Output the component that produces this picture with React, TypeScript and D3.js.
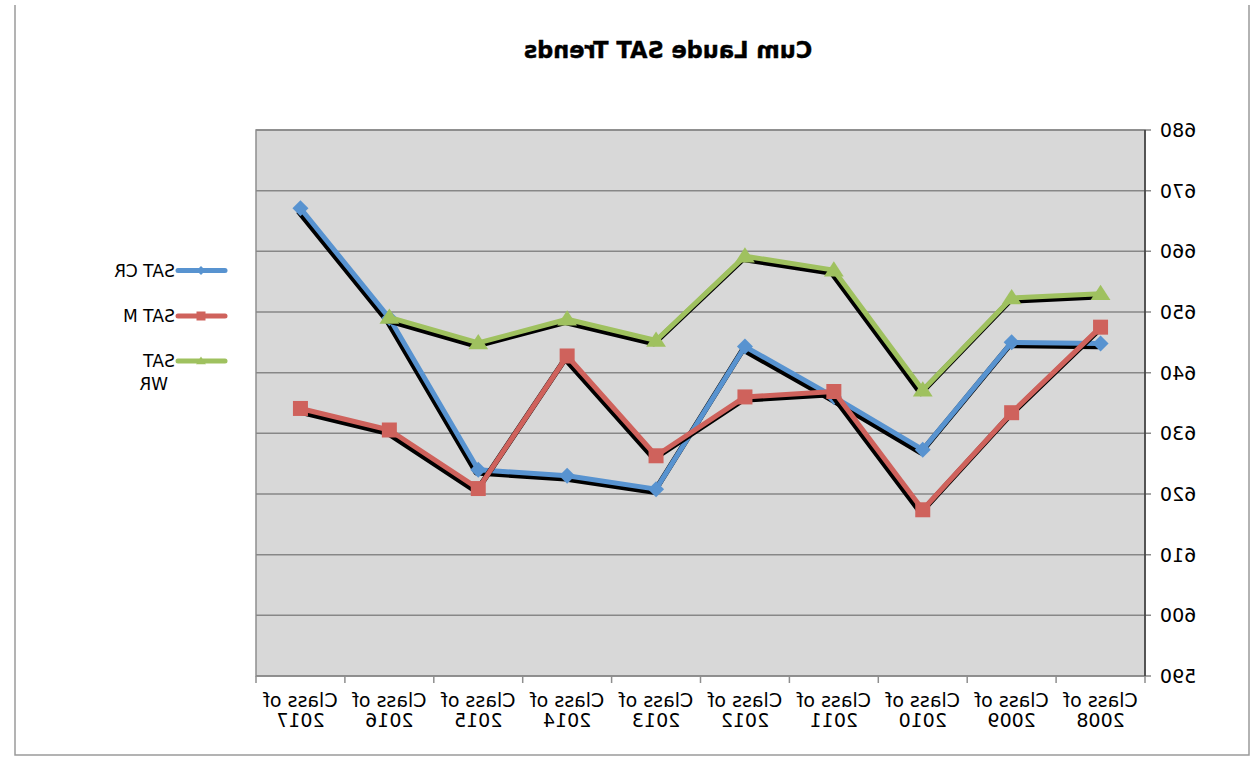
import React from 'react';
import * as d3 from 'd3';

// values, oldest class first
const classes = ['2008', '2009', '2010', '2011', '2012', '2013', '2014', '2015', '2016', '2017'];
const satCR = [644.8, 645, 627.3, 636, 644.3, 620.8, 623, 624, 649, 667.1];
const satM = [647.5, 633.4, 617.4, 636.9, 636, 626.3, 642.75, 620.9, 630.55, 634.1];
const satWR: (number | null)[] = [653, 652.3, 637.1, 656.9, 659.2, 645.3, 648.8, 644.9, 649.1, null];
const yTicks = [590, 600, 610, 620, 630, 640, 650, 660, 670, 680];

const W = 1255;
const H = 767;
const plot = { left: 110, right: 999, top: 130, bottom: 676 };
const axisFont = '"DejaVu Sans", Verdana, sans-serif';

type Series = { name: string[]; values: (number | null)[]; color: string; marker: 'diamond' | 'square' | 'triangle' };

const series: Series[] = [
  { name: ['SAT CR'], values: satCR, color: '#5893d0', marker: 'diamond' },
  { name: ['SAT M'], values: satM, color: '#cf625c', marker: 'square' },
  { name: ['SAT', 'WR'], values: satWR, color: '#9fc15f', marker: 'triangle' },
];

function markerPath(kind: Series['marker'], s: number) {
  if (kind === 'diamond') return `M0,${-s}L${s},0L0,${s}L${-s},0Z`;
  if (kind === 'square') return `M${-s},${-s}H${s}V${s}H${-s}Z`;
  return `M0,${-s}L${s * 1.1},${s * 0.7}L${-s * 1.1},${s * 0.7}Z`;
}

export default function App() {
  const x = d3.scaleBand<string>().domain(classes).range([plot.left, plot.right]).padding(0);
  const y = d3.scaleLinear().domain([590, 680]).range([plot.bottom, plot.top]);
  const cx = (i: number) => (x(classes[i]) ?? 0) + x.bandwidth() / 2;

  const line = d3
    .line<number | null>()
    .defined(d => d != null)
    .x((_, i) => cx(i))
    .y(d => y(d as number));

  const boundaries = classes.map(c => x(c) ?? 0).concat([plot.right]);
  const markerSize = { diamond: 8, square: 7.5, triangle: 9 };

  return (
    <div style={{ position: 'absolute', left: 0, top: 0 }}>
      <svg width={W} height={H} style={{ display: 'block', background: 'white' }}>
        <g transform={`translate(${W},0) scale(-1,1)`}>
          {/* outer chart frame */}
          <path d={`M6,5V755H1240V5`} fill="none" stroke="#9a9a9a" strokeWidth={1.5} />

          <text x={587} y={58} textAnchor="middle" fontFamily={axisFont} fontWeight="bold" fontSize={22.5} fill="#000" stroke="#000" strokeWidth={0.4}>
            Cum Laude SAT Trends
          </text>

          {/* plot area */}
          <rect x={plot.left} y={plot.top} width={plot.right - plot.left} height={plot.bottom - plot.top} fill="#d8d8d8" stroke="#8e8e8e" strokeWidth={1.5} />
          {yTicks.map(t => (
            <g key={t}>
              <line x1={plot.left - 6} x2={plot.right} y1={y(t)} y2={y(t)} stroke="#878787" strokeWidth={1.5} />
              <text x={95} y={y(t)} dy="0.36em" textAnchor="end" fontFamily={axisFont} fontSize={19} fill="#000">
                {t}
              </text>
            </g>
          ))}
          <line x1={plot.left} x2={plot.left} y1={plot.top} y2={plot.bottom} stroke="#3a3a3a" strokeWidth={1.5} />

          {/* category axis */}
          {boundaries.map((b, i) => (
            <line key={i} x1={b} x2={b} y1={plot.bottom} y2={plot.bottom + 7} stroke="#8e8e8e" strokeWidth={1.5} />
          ))}
          {classes.map((c, i) => (
            <text key={c} x={cx(i)} textAnchor="middle" fontFamily={axisFont} fontSize={19} fill="#000">
              <tspan x={cx(i)} y={707}>Class of</tspan>
              <tspan x={cx(i)} y={727}>{c}</tspan>
            </text>
          ))}

          {/* lines with drop shadow */}
          {series.map(s => (
            <g key={s.name.join(' ')}>
              <path d={line(s.values) ?? ''} transform="translate(2,3)" fill="none" stroke="#000" strokeWidth={5.5} strokeLinejoin="round" />
              <path d={line(s.values) ?? ''} fill="none" stroke={s.color} strokeWidth={5} strokeLinejoin="round" />
              {s.values.map((v, i) =>
                v == null ? null : (
                  <path key={i} d={markerPath(s.marker, markerSize[s.marker])} transform={`translate(${cx(i)},${y(v)})`} fill={s.color} />
                )
              )}
            </g>
          ))}

          {/* legend */}
          {series.map((s, k) => {
            const ly = [270.5, 316, 361][k];
            return (
              <g key={k}>
                <line x1={1030} x2={1077} y1={ly} y2={ly} stroke={s.color} strokeWidth={5} strokeLinecap="round" />
                <path d={markerPath(s.marker, 4.5)} transform={`translate(1054,${ly})`} fill={s.color} />
                <text fontFamily={axisFont} fontSize={17} fill="#000">
                  {s.name.map((n, j) => (
                    <tspan key={j} x={j === 0 ? 1080 : 1087} y={ly + 6 + j * 23}>
                      {n}
                    </tspan>
                  ))}
                </text>
              </g>
            );
          })}
        </g>
      </svg>
    </div>
  );
}
